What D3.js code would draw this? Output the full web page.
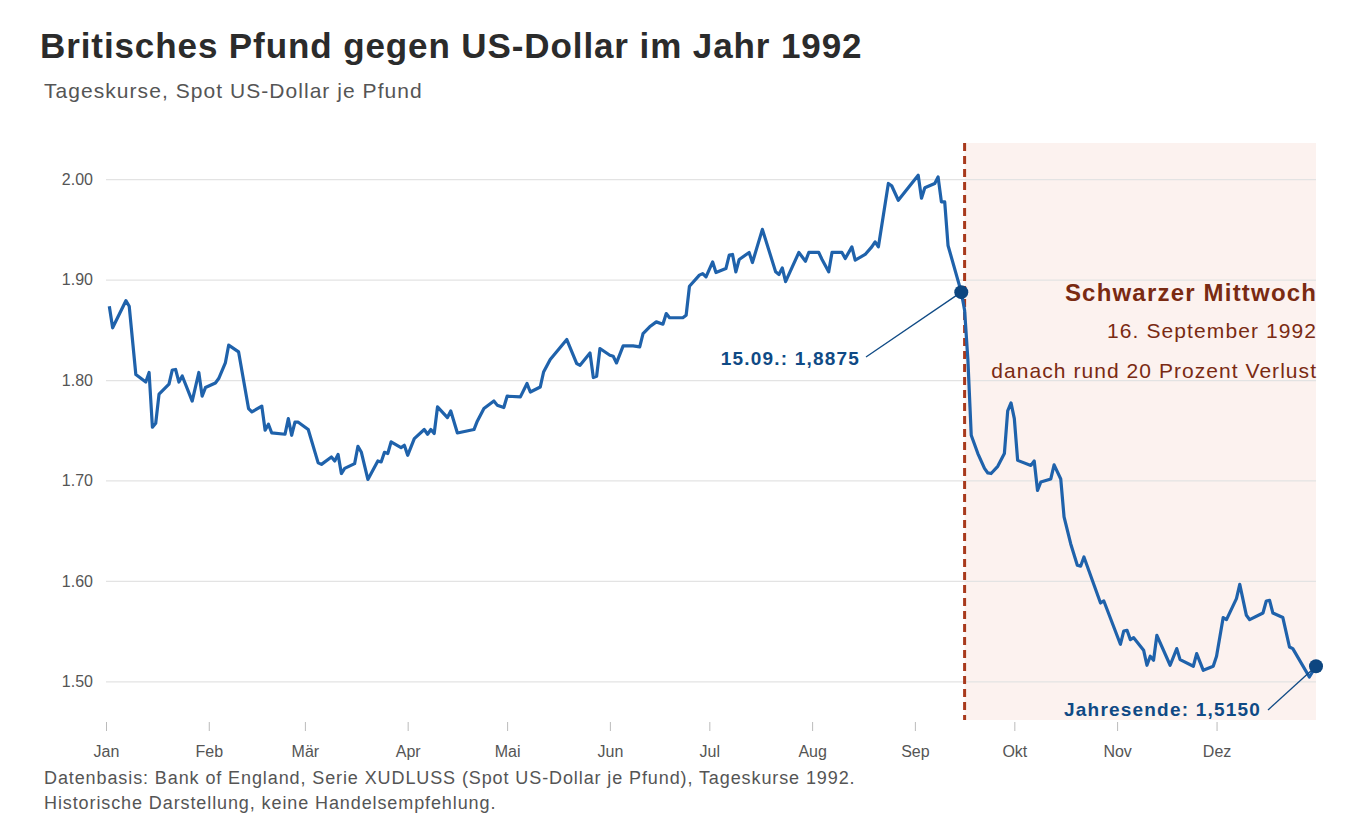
<!DOCTYPE html>
<html>
<head>
<meta charset="utf-8">
<script src="https://cdn.jsdelivr.net/npm/d3@7/dist/d3.min.js"></script>
<style>
  body { margin: 0; background: #fff; }
  svg { display: block; font-family: "Liberation Sans", Arial, Helvetica, sans-serif; }
</style>
</head>
<body>
<svg id="chart" width="1360" height="829"></svg>
<script>
// daily spot rates 1992 (USD per GBP)
var dates = [
  "1992-01-02","1992-01-03","1992-01-07","1992-01-08","1992-01-10","1992-01-13","1992-01-14","1992-01-15","1992-01-16","1992-01-17",
  "1992-01-20","1992-01-21","1992-01-22","1992-01-23","1992-01-24","1992-01-27","1992-01-29","1992-01-30","1992-01-31",
  "1992-02-03","1992-02-04","1992-02-06","1992-02-07","1992-02-10","1992-02-13","1992-02-14","1992-02-17","1992-02-18","1992-02-19",
  "1992-02-20","1992-02-24","1992-02-25","1992-02-26","1992-02-27","1992-02-28",
  "1992-03-02","1992-03-05","1992-03-06","1992-03-09","1992-03-10","1992-03-11","1992-03-12","1992-03-13","1992-03-16","1992-03-17",
  "1992-03-18","1992-03-20","1992-03-23","1992-03-24","1992-03-25","1992-03-26","1992-03-27","1992-03-30","1992-03-31",
  "1992-04-01","1992-04-03","1992-04-06","1992-04-07","1992-04-08","1992-04-09","1992-04-10","1992-04-13","1992-04-14","1992-04-16",
  "1992-04-21","1992-04-22","1992-04-24","1992-04-27","1992-04-28","1992-04-30",
  "1992-05-01","1992-05-05","1992-05-07","1992-05-08","1992-05-11","1992-05-12","1992-05-14","1992-05-19","1992-05-22","1992-05-23",
  "1992-05-26","1992-05-27","1992-05-28","1992-05-29",
  "1992-06-01","1992-06-02","1992-06-03","1992-06-05","1992-06-08","1992-06-10","1992-06-11","1992-06-13","1992-06-15","1992-06-17",
  "1992-06-18","1992-06-19","1992-06-23","1992-06-24","1992-06-25","1992-06-28","1992-06-29","1992-06-30",
  "1992-07-02","1992-07-03","1992-07-06","1992-07-07","1992-07-08","1992-07-09","1992-07-10","1992-07-13","1992-07-14","1992-07-17",
  "1992-07-21","1992-07-22","1992-07-23","1992-07-24","1992-07-28","1992-07-30","1992-07-31",
  "1992-08-03","1992-08-04","1992-08-06","1992-08-07","1992-08-10","1992-08-11","1992-08-13","1992-08-14","1992-08-17","1992-08-19",
  "1992-08-20","1992-08-21","1992-08-24","1992-08-25","1992-08-27",
  "1992-09-02","1992-09-03","1992-09-04","1992-09-07","1992-09-08","1992-09-09","1992-09-10","1992-09-11","1992-09-15","1992-09-16",
  "1992-09-17","1992-09-18","1992-09-20","1992-09-22","1992-09-23","1992-09-24","1992-09-26","1992-09-28","1992-09-29","1992-09-30",
  "1992-10-01","1992-10-02","1992-10-06","1992-10-07","1992-10-08","1992-10-09","1992-10-12","1992-10-13","1992-10-15","1992-10-16",
  "1992-10-18","1992-10-20","1992-10-21","1992-10-22","1992-10-27","1992-10-28",
  "1992-11-02","1992-11-03","1992-11-04","1992-11-05","1992-11-06","1992-11-09","1992-11-10","1992-11-11","1992-11-12","1992-11-13",
  "1992-11-17","1992-11-19","1992-11-20","1992-11-24","1992-11-25","1992-11-27","1992-11-30",
  "1992-12-01","1992-12-03","1992-12-04","1992-12-07","1992-12-08","1992-12-10","1992-12-11","1992-12-15","1992-12-16","1992-12-17",
  "1992-12-18","1992-12-21","1992-12-23","1992-12-24","1992-12-29","1992-12-31"
];
var rates = [
  1.8735,1.852,1.879,1.8735,1.8055,1.798,1.8075,1.753,1.757,1.786,
  1.796,1.810,1.8105,1.798,1.804,1.779,1.8075,1.784,1.7925,
  1.797,1.8015,1.817,1.8347,1.828,1.7716,1.7682,1.774,1.750,1.756,
  1.7473,1.746,1.7616,1.745,1.758,1.758,
  1.7507,1.7175,1.716,1.7234,1.7194,1.726,1.7069,1.712,1.7168,1.734,
  1.7284,1.701,1.7194,1.7184,1.728,1.7268,1.7384,1.7327,1.735,
  1.725,1.7417,1.7507,1.746,1.7507,1.7467,1.7732,1.7626,1.7692,1.7473,
  1.7507,1.759,1.7716,1.7792,1.775,1.7726,
  1.7839,1.7832,1.7965,1.7881,1.7931,1.808,1.8204,1.8403,1.8164,1.8147,
  1.827,1.8025,1.8038,1.8314,
  1.8247,1.8237,1.817,1.834,1.834,1.833,1.8463,1.853,1.8579,1.8556,
  1.8662,1.862,1.862,1.8645,1.8934,1.9044,1.906,1.9027,
  1.9176,1.907,1.911,1.9243,1.925,1.9077,1.920,1.927,1.917,1.950,
  1.9077,1.905,1.9117,1.898,1.927,1.9183,1.927,
  1.927,1.920,1.9077,1.927,1.927,1.921,1.9326,1.9193,1.925,1.9326,
  1.9375,1.9326,1.9957,1.9934,1.979,
  2.004,1.981,1.9914,1.9957,2.0023,1.9774,1.9774,1.934,1.8875,1.8695,
  1.8197,1.745,1.7268,1.712,1.7075,1.7069,1.7141,1.7268,1.7692,1.7772,
  1.7616,1.720,1.715,1.7194,1.690,1.6985,1.7015,1.7155,1.7015,1.6637,
  1.637,1.6155,1.6146,1.6238,1.578,1.580,
  1.5369,1.550,1.5508,1.5415,1.5435,1.531,1.516,1.525,1.521,1.5458,
  1.516,1.5326,1.5216,1.515,1.5276,1.511,1.515,
  1.525,1.5635,1.5614,1.5823,1.5966,1.5657,1.5614,1.568,1.580,1.5807,
  1.568,1.5635,1.5342,1.5326,1.5043,1.515
];
var monthLabels = ["Jan","Feb","Mär","Apr","Mai","Jun","Jul","Aug","Sep","Okt","Nov","Dez"];
var yTicks = [1.5, 1.6, 1.7, 1.8, 1.9, 2.0];
var eventDate = "1992-09-16";
var markDates = ["1992-09-15", "1992-12-31"];
var markLabels = ["15.09.: 1,8875", "Jahresende: 1,5150"];

var parse = d3.timeParse("%Y-%m-%d");
var data = dates.map(function(d, i){ return {date: parse(d), v: rates[i]}; });

var m = {left: 106, right: 1316, top: 143, bottom: 720};
var svg = d3.select("#chart");

var x = d3.scaleTime()
    .domain([parse("1992-01-01"), parse("1992-12-31")])
    .range([m.left, m.right]);
var y = d3.scaleLinear()
    .domain([1.4615, 2.036])
    .range([m.bottom, m.top]);

// small helper, text with fixed font settings
function label(g, tx, ty, size, ls, txt){
    return g.append("text").attr("x", tx).attr("y", ty)
        .attr("font-size", size).attr("letter-spacing", ls).text(txt);
}

// title
label(svg, 40, 58, 35, 0.9, "Britisches Pfund gegen US-Dollar im Jahr 1992")
    .attr("font-weight", "bold").attr("fill", "#2b2b2b");
label(svg, 44, 98, 21, 1.05, "Tageskurse, Spot US-Dollar je Pfund")
    .attr("fill", "#555");

// shaded crisis area
var xe = x(parse(eventDate));
svg.append("rect")
    .attr("x", xe).attr("y", m.top)
    .attr("width", m.right - xe).attr("height", m.bottom - m.top)
    .attr("fill", "#fcf2ef");

// grid + y labels
var yAxis = d3.axisLeft(y).tickValues(yTicks)
    .tickSize(-(m.right - m.left))
    .tickFormat(d3.format(".2f"));
svg.append("g").attr("transform", "translate(" + m.left + ",0)")
    .call(yAxis)
    .call(function(g){
        g.select(".domain").remove();
        g.selectAll(".tick line").attr("stroke", "#e3e3e3").attr("stroke-width", 1.2);
        g.selectAll(".tick text").attr("x", -13).attr("font-size", 16)
            .attr("fill", "#555").attr("font-family", null);
    });

// x axis
var xAxis = d3.axisBottom(x)
    .ticks(d3.timeMonth.every(1))
    .tickSize(9).tickPadding(15)
    .tickFormat(function(d){ return monthLabels[d.getMonth()]; });
svg.append("g").attr("transform", "translate(0," + (m.bottom + 2) + ")")
    .call(xAxis)
    .call(function(g){
        g.select(".domain").remove();
        g.selectAll(".tick line").attr("stroke", "#bbb");
        g.selectAll(".tick text").attr("font-size", 16).attr("fill", "#555")
            .attr("font-family", null);
    });

// dashed event line
svg.append("line")
    .attr("x1", xe).attr("x2", xe).attr("y1", m.top).attr("y2", m.bottom)
    .attr("stroke", "#a8391c").attr("stroke-width", 3)
    .attr("stroke-dasharray", "8,5");

// series
var line = d3.line()
    .x(function(d){ return x(d.date); })
    .y(function(d){ return y(d.v); });
svg.append("path").datum(data)
    .attr("d", line)
    .attr("fill", "none")
    .attr("stroke", "#1f62ab")
    .attr("stroke-width", 3.2)
    .attr("stroke-linejoin", "round");

// annotation text (end anchored, nudge right by the trailing letter spacing)
var ann = svg.append("g").attr("fill", "#7a2a12").attr("text-anchor", "end");
label(ann, m.right + 1.2, 301, 24, 1.2, "Schwarzer Mittwoch").attr("font-weight", "bold");
label(ann, m.right + 1.1, 338, 21, 1.1, "16. September 1992");
label(ann, m.right + 1.05, 378, 21, 1.05, "danach rund 20 Prozent Verlust");

// marked points
var marks = markDates.map(function(d, i){
    var dt = parse(d);
    var p = data.find(function(e){ return +e.date == +dt; });
    return {date: dt, v: p.v, label: markLabels[i]};
});
var lblPos = [{lx: 866, ly: 357, tx: 860, ty: 365}, {lx: 1268, ly: 710, tx: 1261, ty: 716}];
marks.forEach(function(mk, i){
    var px = x(mk.date), py = y(mk.v);
    svg.append("line")
        .attr("x1", px).attr("y1", py).attr("x2", lblPos[i].lx).attr("y2", lblPos[i].ly)
        .attr("stroke", "#0f4a85").attr("stroke-width", 1.3);
    svg.append("circle").attr("cx", px).attr("cy", py).attr("r", 7)
        .attr("fill", "#0d4680");
    label(svg, lblPos[i].tx, lblPos[i].ty, 19, 1.2, mk.label)
        .attr("text-anchor", "end").attr("font-weight", "bold")
        .attr("fill", "#0f4a85");
});

// footer
label(svg, 44, 784, 18, 0.9, "Datenbasis: Bank of England, Serie XUDLUSS (Spot US-Dollar je Pfund), Tageskurse 1992.")
    .attr("fill", "#555");
label(svg, 44, 809, 18, 0.9, "Historische Darstellung, keine Handelsempfehlung.")
    .attr("fill", "#555");
</script>
</body>
</html>
